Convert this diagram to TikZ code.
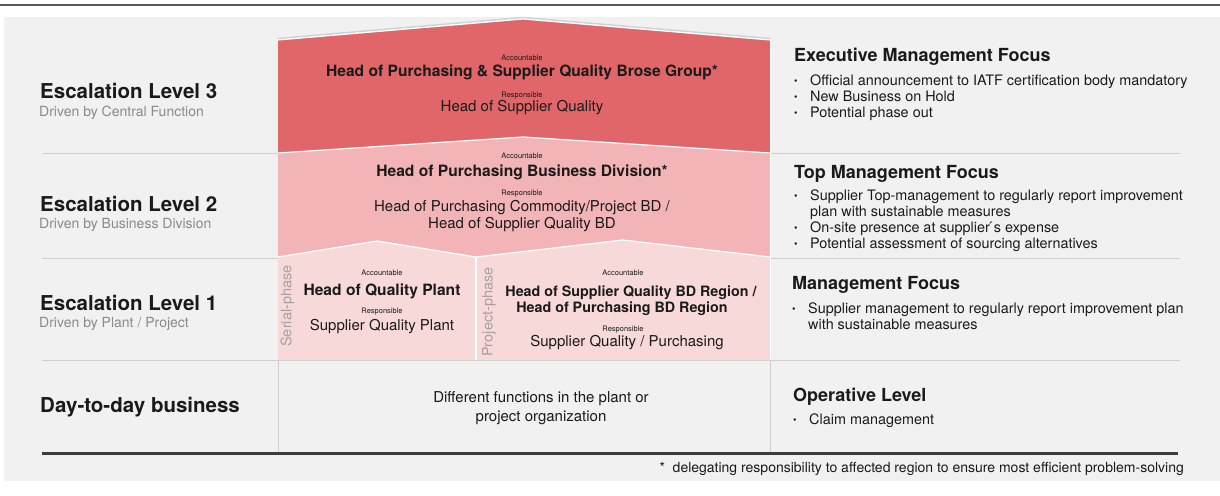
\documentclass[tikz,border=0pt]{standalone}
\usepackage{fontspec}
\setmainfont{TeX Gyre Heros}
\newcommand\myfs[1]{\fontsize{#1}{#1}\selectfont}
\definecolor{panel}{HTML}{F1F1F1}
\definecolor{topline}{HTML}{5A5A5A}
\definecolor{rowline}{HTML}{CFCFCF}
\definecolor{darkline}{HTML}{3C3C3C}
\definecolor{lvlthree}{HTML}{E0666A}
\definecolor{lvltwo}{HTML}{F2B4B6}
\definecolor{lvlone}{HTML}{F8D9DA}
\definecolor{txt}{HTML}{1A1A1A}
\definecolor{subgray}{HTML}{8A8A8A}
\definecolor{phasegray}{HTML}{A8A0A0}
\definecolor{shadowc}{HTML}{CCD4D6}
\tikzset{
  lvl/.style={anchor=base west, inner sep=0, font=\bfseries\myfs{20.5}, text=txt},
  sublbl/.style={anchor=base west, inner sep=0, font=\myfs{14}, text=subgray},
  acc/.style={anchor=base, inner sep=0, font=\myfs{7.5}, text=txt},
  ttl/.style={anchor=base, inner sep=0, font=\bfseries\myfs{15.6}, text=txt},
  ttlsmall/.style={anchor=base, inner sep=0, font=\bfseries\myfs{14.3}, text=txt},
  rsp/.style={anchor=base, inner sep=0, font=\myfs{15}, text=txt},
  hdr/.style={anchor=base west, inner sep=0, font=\bfseries\myfs{18}, text=txt},
  bl/.style={anchor=base west, inner sep=0, font=\myfs{14.4}, text=txt},
  phase/.style={rotate=90, inner sep=0, font=\myfs{14.5}, text=phasegray},
  edgeline/.style={draw=white, line width=1.2pt, line join=round},
  rowrule/.style={draw=rowline, line width=0.9pt},
}
\newcommand\bult{\makebox[16pt][l]{\raisebox{1pt}{\myfs{10}\textbullet}}}
\begin{document}
\begin{tikzpicture}[x=1pt,y=-1pt]
\useasboundingbox (0,0) rectangle (1220,495);
% background
\draw[topline, line width=1.3pt] (0,5) -- (1220,5);
\fill[panel] (4,17) rectangle (1220,481);
% row rules
\draw[rowrule] (42,153) -- (1180,153);
\draw[rowrule] (42,258) -- (1180,258);
\draw[rowrule] (42,360.5) -- (1180,360.5);
\draw[rowrule] (278,360) -- (278,453);
\draw[rowrule] (770,360) -- (770,453);
\draw[darkline, line width=3pt] (42,453) -- (1178,453);
% shadow of top
\draw[shadowc, line width=1.5pt] (278,38.5) -- (523,17.5) -- (770,38.5);
% level shapes
\fill[lvlthree] (278,40) -- (523,19) -- (770,40) -- (770,153) -- (523,137) -- (278,153) -- cycle;
\draw[edgeline] (278,40) -- (523,19) -- (770,40);
\fill[lvltwo] (278,153) -- (523,137) -- (770,153) -- (770,257) -- (623,240) -- (476,257) -- (377,241) -- (278,257) -- cycle;
\draw[edgeline] (278,153) -- (523,137) -- (770,153);
\fill[lvlone] (278,257) -- (377,241) -- (476,257) -- (476,360) -- (278,360) -- cycle;
\fill[lvlone] (476,257) -- (623,240) -- (770,257) -- (770,360) -- (476,360) -- cycle;
\draw[edgeline] (278,257) -- (377,241) -- (476,257) -- (623,240) -- (770,257);
\draw[edgeline] (476,257) -- (476,360);
\draw[draw=white, line width=0.8pt] (770,40) -- (770,360);
% left labels
\node[lvl] (e3) at (40,98) {Escalation Level 3};
\node[sublbl] (d3) at (39,116) {Driven by Central Function};
\node[lvl] (e2) at (40,211) {Escalation Level 2};
\node[sublbl] (d2) at (39,228) {Driven by Business Division};
\node[lvl] (e1) at (40,310) {Escalation Level 1};
\node[sublbl] (d1) at (39,327) {Driven by Plant / Project};
\node[lvl] (e0) at (40,412) {Day-to-day business};
% level 3 center
\node[acc] (acc3) at (522,60) {Accountable};
\node[ttl] (t3) at (522,77) {Head of Purchasing \& Supplier Quality Brose Group*};
\node[acc] (res3) at (522,97) {Responsible};
\node[rsp] (r3) at (522,111) {Head of Supplier Quality};
% level 2 center
\node[acc] (acc2) at (522,158) {Accountable};
\node[ttl] (t2) at (522,176) {Head of Purchasing Business Division*};
\node[acc] (res2) at (522,195) {Responsible};
\node[rsp] (r2a) at (522,211) {Head of Purchasing Commodity/Project BD /};
\node[rsp] (r2b) at (522,228) {Head of Supplier Quality BD};
% level 1 left
\node[phase] (ser) at (287.5,306) {Serial-phase};
\node[acc] (acc1a) at (382,275) {Accountable};
\node[ttl] (t1a) at (382,295) {Head of Quality Plant};
\node[acc] (res1a) at (382,313) {Responsible};
\node[rsp] (r1a) at (382,330) {Supplier Quality Plant};
% level 1 right
\node[phase] (pro) at (489,312) {Project-phase};
\node[acc] (acc1b) at (623,275) {Accountable};
\node[ttlsmall] (t1b) at (631,296) {Head of Supplier Quality BD Region /};
\node[ttlsmall] (t1c) at (622,312) {Head of Purchasing BD Region};
\node[acc] (res1b) at (623,331) {Responsible};
\node[rsp] (r1b) at (627,346) {Supplier Quality / Purchasing};
% day to day center
\node[rsp] (dd1) at (541,402) {Different functions in the plant or};
\node[rsp] (dd2) at (541,421) {project organization};
% right column
\node[hdr] (h3) at (794,62) {Executive Management Focus};
\node[bl] (b31) at (794,85) {\bult Official announcement to IATF certification body mandatory};
\node[bl] (b32) at (794,101) {\bult New Business on Hold};
\node[bl] (b33) at (794,117) {\bult Potential phase out};
\node[hdr] (h2) at (794,178) {Top Management Focus};
\node[bl] (b21) at (794,200) {\bult Supplier Top-management to regularly report improvement};
\node[bl] (b21b) at (810,216) {plan with sustainable measures};
\node[bl] (b22) at (794,232) {\bult On-site presence at supplier\'{}s expense};
\node[bl] (b23) at (794,248) {\bult Potential assessment of sourcing alternatives};
\node[hdr] (h1) at (792,289) {Management Focus};
\node[bl] (b11) at (792,313) {\bult Supplier management to regularly report improvement plan};
\node[bl] (b11b) at (808,329) {with sustainable measures};
\node[hdr] (h0) at (793,401) {Operative Level};
\node[bl] (b01) at (793,424) {\bult Claim management};
% footnote
\node[anchor=base east, inner sep=0, font=\myfs{14}, text=txt] (fn) at (1184,472) {*\ \ delegating responsibility to affected region to ensure most efficient problem-solving};
\end{tikzpicture}
\end{document}
